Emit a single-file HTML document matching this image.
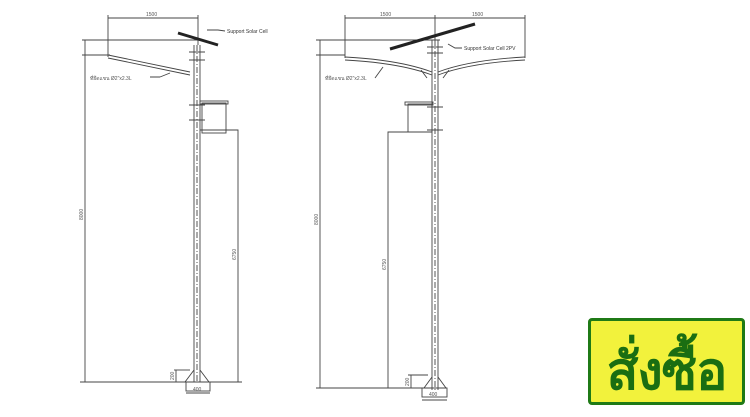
<!DOCTYPE html>
<html><head><meta charset="utf-8"><style>
body{margin:0;width:750px;height:417px;background:#fff;overflow:hidden;position:relative}
svg{position:absolute;left:0;top:0}
.btn{position:absolute;left:588px;top:318px;width:151px;height:81px;background:#f2f23c;border:3px solid #1f7a16;border-radius:4px;overflow:hidden}
.btn span{position:absolute;left:0;right:0;top:6px;text-align:center;color:#1a6e12;font:bold 52px/80px "Noto Sans CJK SC","Liberation Sans",sans-serif;letter-spacing:-1px}
</style></head><body>
<svg width="750" height="417" font-family="Liberation Sans, sans-serif" font-size="5" fill="none" stroke="#444" stroke-width="0.9">
<line x1="108" y1="18" x2="198" y2="18"/><line x1="108" y1="15" x2="108" y2="57"/><line x1="198" y1="15" x2="198" y2="45"/>
<text x="146" y="16" fill="#555" stroke="none">1500</text>
<line x1="82" y1="40" x2="200" y2="40"/><line x1="82" y1="55" x2="110" y2="55"/>
<line x1="85" y1="40" x2="85" y2="382"/>
<text x="83" y="220" fill="#555" stroke="none" transform="rotate(-90 83 220)">8000</text>
<path d="M108 55 L190 72 M108 58 L190 75" />
<line x1="178" y1="33" x2="218" y2="45" stroke="#222" stroke-width="3"/>
<line x1="194" y1="45" x2="194" y2="382"/><line x1="200" y1="45" x2="200" y2="382"/>
<line x1="197" y1="45" x2="197" y2="382" stroke-dasharray="6 2 1 2"/>
<path d="M189 52h16M189 60h16M189 105h16M189 120h16"/>
<path d="M160 77 L150 77 M170 73 L160 77"/>
<text x="90" y="80" fill="#555" stroke="none">ที่ยึดแขน Ø2"x2.3L</text>
<path d="M207 30 L218 30 L225 31"/><text x="227" y="33" fill="#333" stroke="none">Support Solar Cell</text>
<rect x="202" y="103" width="24" height="30" stroke="#444"/><rect x="200" y="101" width="28" height="3"/>
<path d="M200 130 H238 V382"/>
<text x="236" y="260" fill="#555" stroke="none" transform="rotate(-90 236 260)">6750</text>
<line x1="80" y1="382" x2="242" y2="382"/>
<path d="M185 382 L194 370 M209 382 L200 370"/>
<rect x="186" y="382" width="24" height="9"/>
<line x1="186" y1="393" x2="210" y2="393"/><text x="193" y="391" fill="#555" stroke="none">400</text>
<line x1="174" y1="370" x2="190" y2="370"/><line x1="176" y1="370" x2="176" y2="382"/>
<text x="174" y="380" fill="#555" stroke="none" transform="rotate(-90 174 380)">200</text>
<line x1="345" y1="18" x2="525" y2="18"/><line x1="345" y1="15" x2="345" y2="58"/><line x1="525" y1="15" x2="525" y2="58"/><line x1="435" y1="15" x2="435" y2="40"/>
<text x="380" y="16" fill="#555" stroke="none">1500</text><text x="472" y="16" fill="#555" stroke="none">1500</text>
<line x1="316" y1="40" x2="440" y2="40"/><line x1="316" y1="55" x2="345" y2="55"/>
<line x1="320" y1="40" x2="320" y2="388"/>
<text x="318" y="225" fill="#555" stroke="none" transform="rotate(-90 318 225)">8000</text>
<path d="M345 57 Q400 60 432 72 M345 60 Q400 63 432 75 M525 57 Q470 60 438 72 M525 60 Q470 63 438 75"/>
<line x1="390" y1="49" x2="475" y2="24" stroke="#222" stroke-width="3"/>
<line x1="432" y1="40" x2="432" y2="390"/><line x1="438" y1="40" x2="438" y2="390"/>
<line x1="435" y1="40" x2="435" y2="390" stroke-dasharray="6 2 1 2"/>
<path d="M427 47h16M427 53h16M427 107h16M427 130h16M421 70l6 8M449 70l-6 8"/>
<path d="M448 44 L455 48 L462 48"/><text x="464" y="50" fill="#333" stroke="none">Support Solar Cell 2PV</text>
<path d="M375 78 L383 67"/><text x="325" y="80" fill="#555" stroke="none">ที่ยึดแขน Ø2"x2.3L</text>
<rect x="408" y="104" width="24" height="28" stroke="#444"/><rect x="405" y="102" width="28" height="3"/>
<path d="M432 132 H388 V388"/>
<text x="386" y="270" fill="#555" stroke="none" transform="rotate(-90 386 270)">6750</text>
<line x1="316" y1="388" x2="447" y2="388"/>
<path d="M424 388 L432 377 M446 388 L438 377"/>
<rect x="422" y="388" width="25" height="9"/>
<line x1="422" y1="400" x2="447" y2="400"/><text x="429" y="396" fill="#555" stroke="none">400</text>
<line x1="408" y1="375" x2="428" y2="375"/><line x1="411" y1="375" x2="411" y2="388"/>
<text x="409" y="386" fill="#555" stroke="none" transform="rotate(-90 409 386)">200</text>
</svg>
<div class="btn"><span>สั่งซื้อ</span></div>
</body></html>
